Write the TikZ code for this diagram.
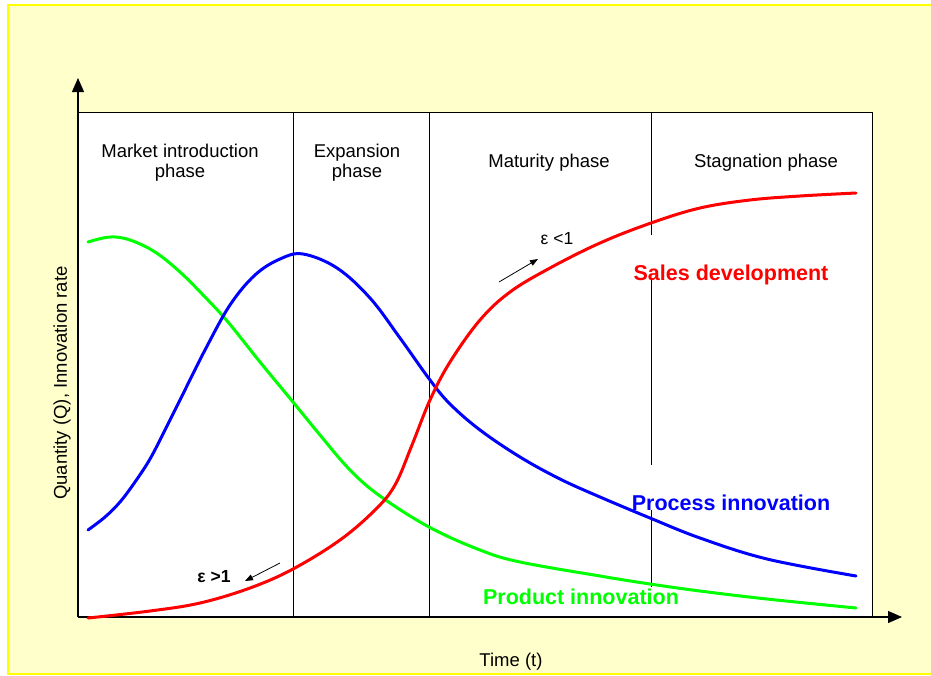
\documentclass[tikz,border=0pt]{standalone}
\usepackage{fontspec}
\setmainfont{Liberation Sans}
\usetikzlibrary{arrows.meta}
\definecolor{paper}{HTML}{FFFFCC}
\definecolor{frameyellow}{HTML}{FFFF00}
\definecolor{salesred}{HTML}{FF0000}
\definecolor{processblue}{HTML}{0000FF}
\definecolor{productgreen}{HTML}{00FF00}

\begin{document}
\begin{tikzpicture}
      [x = 1pt, y = -1pt,
      axis/.style={line width = 1.2pt, -{Triangle[length = 14pt, width = 12pt]}},
      divider/.style={line width = 1pt},
      phase/.style= {
         font = \fontsize{18.5}{20}\selectfont,
         align = center,
         inner sep = 0pt
      },
      curve/.style={line width = 3pt, line join = round, line cap = round},
      curvelabel/.style= {
         font = \fontsize{21.5}{24}\selectfont\bfseries,
         inner sep = 0pt
      },
      elast/.style={line width = 0.8pt, -{Triangle[length = 8pt, width = 6pt]}}]

      \useasboundingbox (0, 0) rectangle (931, 675);
      \clip (0, 0) rectangle (931, 675);
      \fill[white] (0, 0) rectangle (931, 675);
      \draw[frameyellow, fill = paper, line width = 1.5pt] (8, 5) rectangle (940, 674);

      % plot area and phases
      \draw[fill = white, line width = 1pt] (78, 112) rectangle (872, 617);
      \draw[divider] (293, 112) -- (293, 617);
      \draw[divider] (429, 112) -- (429, 617);
      \draw[divider] (651, 112) -- (651, 235);
      \draw[divider] (651, 280) -- (651, 465);
      \draw[divider] (651, 510) -- (651, 587);

      \coordinate (origin) at (78, 617);
      \coordinate (ytip) at (78, 78);
      \coordinate (xtip) at (902, 617);
      \draw[axis] (origin) -- (ytip);
      \draw[axis] (origin) -- (xtip);

      % curves
      \draw[curve, productgreen] plot[smooth, tension = 0.6] coordinates {
         (88, 242) (110, 237) (130, 240) (155, 252) (180, 272) (205, 297)
         (228, 322) (260, 362) (293, 402) (320, 435) (350, 470) (380, 496)
         (429, 527) (480, 550) (520, 562) (600, 576) (650, 584) (700, 591)
         (767, 599) (856, 608)};
      \draw[curve, processblue] plot[smooth, tension = 0.6] coordinates {
         (88, 530) (105, 517) (120, 502) (135, 482) (150, 459) (165, 430)
         (180, 400) (205, 350) (230, 305)
         (255, 275) (280, 259) (303, 254) (337, 268) (370, 298) (400, 338)
         (430, 380) (450, 404) (480, 430) (520, 457) (560, 479) (600, 497)
         (650, 518) (700, 538) (767, 559) (856, 576)};
      \draw[curve, salesred] plot[smooth, tension = 0.6] coordinates {
         (88, 618) (150, 611) (200, 603) (250, 588) (293, 569) (340, 540)
         (375, 510) (395, 485) (412, 445) (430, 400) (450, 362) (480, 320)
         (510, 292) (550, 268) (600, 243) (651, 223) (700, 208) (750, 200)
         (800, 196) (856, 193)};

      % phase names
      \node[phase] (intro) at (180, 163) {Market introduction\\phase};
      \node[phase] (expansion) at (357, 163) {Expansion\\phase};
      \node[phase] (maturity) at (549, 163) {Maturity phase};
      \node[phase] (stagnation) at (766, 163) {Stagnation phase};

      % axis titles
      \node[phase] (timelabel) at (511, 662) {Time (t)};
      \node[phase, rotate = 90] (qlabel) at (62, 383) {Quantity (Q), Innovation rate};

      % curve labels
      \node[curvelabel, salesred] (sales) at (731, 275) {Sales development};
      \node[curvelabel, processblue] (process) at (731, 503) {Process innovation};
      \node[curvelabel, productgreen] (product) at (581, 597) {Product innovation};

      % elasticity marks
      \node[inner sep = 0pt, font = \fontsize{17.5}{20}\selectfont] (elastlow) at (557, 239) {ε <1};
      \coordinate (lowstart) at (499, 282);
      \coordinate (lowend) at (538, 259);
      \draw[elast] (lowstart) -- (lowend);

      \node[inner sep = 0pt, font = \fontsize{17.5}{20}\selectfont\bfseries] (elasthigh) at (214, 577) {ε >1};
      \coordinate (highstart) at (280, 563);
      \coordinate (highend) at (245, 581);
      \draw[elast] (highstart) -- (highend);

   \end{tikzpicture}
\end{document}
